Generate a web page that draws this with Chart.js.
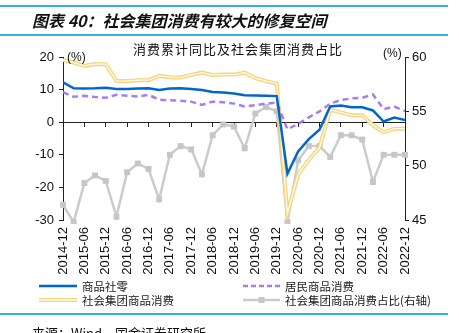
<!DOCTYPE html>
<html><head><meta charset="utf-8">
<script src="https://cdn.jsdelivr.net/npm/chart.js@4/dist/chart.umd.min.js"></script>
<style>
html,body{margin:0;padding:0;background:#fff;}
body{width:459px;height:333px;overflow:hidden;position:relative;font-family:"Noto Sans CJK SC",sans-serif;color:#1a1a1a;}
#c{position:absolute;left:0;top:0;}
.hline{position:absolute;left:0;width:448px;height:2px;background:#35b0e6;}
.txt{position:absolute;white-space:nowrap;}
#hdr{left:32px;top:10px;font-size:16px;line-height:20px;font-weight:bold;font-style:italic;color:#111;}
#ctitle{left:128px;width:220px;top:41px;font-size:13px;line-height:15px;letter-spacing:1px;text-align:center;color:#111;}
.pct{font-family:"Liberation Sans",Arial,sans-serif;font-size:12px;line-height:14px;color:#111;}
.lg{position:absolute;height:14px;display:flex;align-items:center;font-size:11.5px;line-height:14px;color:#1a1a1a;white-space:nowrap;}
.lg svg{margin-right:5px;}
#src{left:32px;top:325px;font-size:13px;line-height:16px;color:#111;}
</style>
</head><body>
<canvas id="c" width="459" height="333"></canvas>
<div class="hline" style="top:5px"></div>
<div class="txt" id="hdr">图表 40：社会集团消费有较大的修复空间</div>
<div class="hline" style="top:34px"></div>
<div class="txt" id="ctitle">消费累计同比及社会集团消费占比</div>
<div class="txt pct" style="left:67px;top:50px">(%)</div>
<div class="txt pct" style="left:383px;top:46px">(%)</div>
<div class="lg" style="left:39px;top:279px"><svg width="38" height="6"><line x1="0" y1="3" x2="38" y2="3" stroke="#0066cc" stroke-width="2.5"/></svg>商品社零</div>
<div class="lg" style="left:243px;top:279px"><svg width="37" height="6"><line x1="0" y1="3" x2="37" y2="3" stroke="#a57ff2" stroke-width="2.5" stroke-dasharray="5,3"/></svg>居民商品消费</div>
<div class="lg" style="left:39px;top:293px"><svg width="38" height="6"><line x1="0" y1="3" x2="38" y2="3" stroke="#f7d37a" stroke-width="4"/><line x1="0" y1="3" x2="38" y2="3" stroke="#fffdf2" stroke-width="1.3"/></svg>社会集团商品消费</div>
<div class="lg" style="left:243px;top:293px"><svg width="37" height="8"><line x1="0" y1="4" x2="37" y2="4" stroke="#cbcbcb" stroke-width="2.5"/><rect x="15.5" y="1" width="6" height="6" fill="#c6c6c6"/></svg>社会集团商品消费占比(右轴)</div>
<div class="hline" style="top:313px"></div>
<div class="txt" id="src">来源：Wind，国金证券研究所</div>
<script>
const categories = ['2014-12','2015-03','2015-06','2015-09','2015-12','2016-03','2016-06','2016-09','2016-12','2017-03','2017-06','2017-09','2017-12','2018-03','2018-06','2018-09','2018-12','2019-03','2019-06','2019-09','2019-12','2020-03','2020-06','2020-09','2020-12','2021-03','2021-06','2021-09','2021-12','2022-03','2022-06','2022-09','2022-12'];
const goodsRetail = [12.2,10.4,10.3,10.4,10.6,10.2,10.2,10.3,10.4,9.9,10.3,10.4,10.2,9.9,9.3,9.1,8.8,8.3,8.2,8.1,8.0,-15.8,-9.0,-5.2,-2.3,4.8,5.1,4.6,4.6,3.6,0.2,1.4,0.7];
const residentGoods = [9.2,7.8,8.1,7.7,7.5,8.4,8.1,7.9,8.4,6.9,6.7,6.6,6.3,5.3,6.3,6.1,5.7,4.8,5.2,5.7,6.0,-2.2,-0.5,1.5,3.3,5.7,6.8,7.3,7.5,8.5,4.0,4.8,3.4];
const groupGoods = [19.1,18.3,17.3,17.8,17.8,12.7,12.6,12.9,12.9,14.2,13.8,13.7,14.5,15.2,14.5,14.6,14.6,15.2,13.5,12.6,11.8,-28.0,-15.9,-11.6,-7.8,3.8,3.0,2.1,2.1,-0.9,-3.1,-2.0,-2.0];
const groupShare = [46.4,44.8,48.4,49.1,48.6,45.3,49.4,50.2,49.7,46.9,51.0,51.8,51.5,49.2,52.8,53.8,53.6,51.6,54.8,55.4,55.0,44.8,50.5,51.8,51.8,50.8,52.8,52.8,52.4,48.5,51.0,51.0,51.0];
const leftTicks = [-30,-20,-10,0,10,20];
const rightTicks = [45,50,55,60];

const pts = arr => arr.map((v,i)=>({x:i,y:v}));
const tickFont = {family:'"Liberation Sans", Arial, sans-serif', size:13};
const evenTicks = s => { s.ticks = categories.map((c,i)=>({value:i})).filter(t=>t.value%2===0); };

new Chart(document.getElementById('c'), {
  type:'line',
  data:{datasets:[
    {label:'商品社零', data:pts(goodsRetail), borderColor:'#0066cc', borderWidth:2.5, pointRadius:0, yAxisID:'y'},
    {label:'居民商品消费', data:pts(residentGoods), borderColor:'#a57ff2', borderWidth:2.5, borderDash:[6,4], pointRadius:0, yAxisID:'y'},
    {label:'社会集团商品消费', data:pts(groupGoods), borderColor:'#fffdf2', borderWidth:1.3, pointRadius:0, yAxisID:'y'},
    {label:'社会集团商品消费_', data:pts(groupGoods), borderColor:'#f7d37a', borderWidth:4, pointRadius:0, yAxisID:'y'},
    {label:'社会集团商品消费占比(右轴)', data:pts(groupShare), borderColor:'#cbcbcb', borderWidth:2.5, pointStyle:'rect', pointRadius:4.2, pointBackgroundColor:'#c6c6c6', pointBorderWidth:0, yAxisID:'y1', clip:4}
  ]},
  options:{
    responsive:false, animation:false, events:[],
    layout:{padding:{top:57,bottom:53,left:0,right:0}},
    elements:{line:{tension:0}},
    plugins:{legend:{display:false}, tooltip:{enabled:false}},
    scales:{
      x:{type:'linear', position:'bottom', min:0, max:categories.length-1,
        afterBuildTicks:evenTicks,
        ticks:{autoSkip:false, maxRotation:90, minRotation:90, padding:7, font:tickFont, color:'#111', callback:v=>categories[v]},
        grid:{display:false, drawTicks:false}, border:{display:false},
        afterFit:s=>{s.height=60;}},
      x2:{type:'linear', position:{y:0}, min:0, max:categories.length-1,
        afterBuildTicks:evenTicks,
        ticks:{display:false},
        grid:{drawOnChartArea:false, drawTicks:true, tickLength:4, color:'#222'},
        border:{display:true, color:'#222', width:1}},
      y:{type:'linear', position:'left', min:-30, max:20,
        afterBuildTicks:s=>{s.ticks=leftTicks.map(v=>({value:v}));},
        ticks:{font:tickFont, color:'#111', padding:5},
        grid:{drawOnChartArea:false, drawTicks:true, tickLength:4, color:'#222'},
        border:{display:true, color:'#222', width:1},
        afterFit:s=>{s.width=63;}},
      y1:{type:'linear', position:'right', min:45, max:60,
        afterBuildTicks:s=>{s.ticks=rightTicks.map(v=>({value:v}));},
        ticks:{font:tickFont, color:'#111', padding:3},
        grid:{drawOnChartArea:false, drawTicks:true, tickLength:4, color:'#222'},
        border:{display:true, color:'#222', width:1},
        afterFit:s=>{s.width=54;}}
    }
  }
});
</script>
</body></html>
